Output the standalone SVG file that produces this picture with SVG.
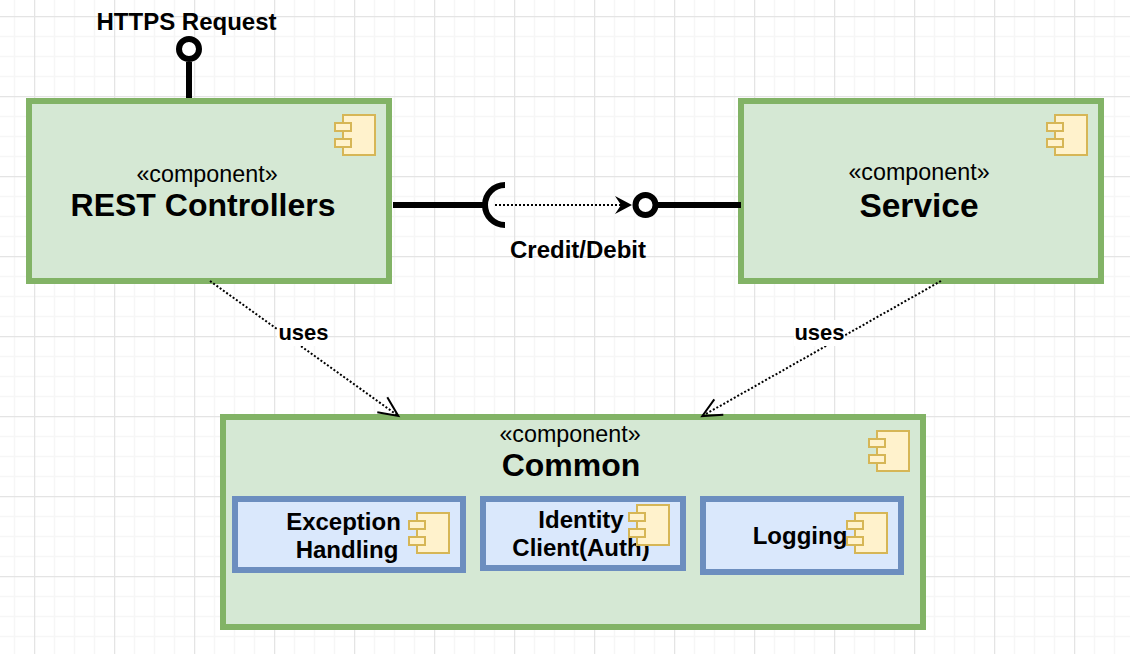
<svg xmlns="http://www.w3.org/2000/svg" width="1130" height="654" viewBox="0 0 1130 654">
<style>
text{font-family:"Liberation Sans",Arial,sans-serif;fill:#000;text-anchor:middle}
.b{font-weight:bold;font-size:24px}
.t{font-weight:bold;font-size:32px}
.s{font-size:23.300px}
.u{font-weight:bold;font-size:22px}
.g{fill:#d5e8d4;stroke:#82b366;stroke-width:6}
.p{fill:#dae8fc;stroke:#6c8ebf;stroke-width:6}
.i{fill:#fff2cc;stroke:#d6b656;stroke-width:2}
.w{fill:none;stroke:#000;stroke-width:6}
.c{fill:#fff;stroke:#000;stroke-width:6}
.d{fill:none;stroke:#000;stroke-width:2;stroke-dasharray:2 2}
.o{fill:none;stroke:#000;stroke-width:2}
</style>
<defs>
<pattern id="grid" patternUnits="userSpaceOnUse" width="80" height="80" x="34" y="16">
<path d="M20.500 0V80M40.500 0V80M60.500 0V80M0 20.500H80M0 40.500H80M0 60.500H80" fill="none" stroke="#f6f6f6" stroke-width="1.500"/>
<path d="M0.500 0V80M0 0.500H80" fill="none" stroke="#e4e4e4" stroke-width="1.500"/>
</pattern>
<g id="icon">
<rect class="i" x="8" y="0" width="32" height="40"/>
<rect class="i" x="0" y="8" width="16" height="8"/>
<rect class="i" x="0" y="24" width="16" height="8"/>
</g>
</defs>
<rect width="1130" height="654" fill="#fff"/>
<rect width="1130" height="654" fill="url(#grid)"/>
<g id="rest-controllers">
<rect class="g" x="29" y="101" width="360" height="180"/>
<use href="#icon" x="335" y="115"/>
<text class="s" x="207" y="182">«component»</text>
<text class="t" x="203" y="216">REST Controllers</text>
</g>
<g id="service">
<rect class="g" x="741" y="101" width="360" height="180"/>
<use href="#icon" x="1047" y="115"/>
<text class="s" x="919" y="180">«component»</text>
<text class="t" x="919" y="217" style="font-size:33.500px">Service</text>
</g>
<g id="common">
<rect class="g" x="223" y="417" width="700" height="210"/>
<use href="#icon" x="869" y="431"/>
<text class="s" x="570" y="442">«component»</text>
<text class="t" x="571" y="476">Common</text>
</g>
<g id="exception-handling">
<rect class="p" x="235" y="499" width="228" height="71"/>
<text class="b" x="343.500" y="530">Exception</text>
<text class="b" x="347" y="558">Handling</text>
<use href="#icon" x="409" y="513"/>
</g>
<g id="identity-client">
<rect class="p" x="483" y="499" width="200" height="69"/>
<text class="b" x="581" y="528">Identity</text>
<text class="b" x="581" y="556">Client(Auth)</text>
<use href="#icon" x="629" y="505"/>
</g>
<g id="logging">
<rect class="p" x="703" y="499" width="198" height="73"/>
<text class="b" x="800" y="544">Logging</text>
<use href="#icon" x="847" y="513"/>
</g>
<g id="connectors">
<path class="w" d="M189 62V98"/>
<circle class="c" cx="189" cy="49" r="10"/>
<path class="w" d="M393 205H485"/>
<path class="w" d="M505 185A20 20 0 0 0 505 225"/>
<path class="w" d="M658 205H741"/>
<circle class="c" cx="645.500" cy="205" r="10"/>
<path class="d" d="M495 205H624"/>
<path d="M632 205L615 196L621 205L615 214Z" fill="#000"/>
<path class="d" d="M210 281L397 415"/>
<path class="o" d="M387.300 397.300L398.300 416L377.300 412.300"/>
<path class="d" d="M941 281L704 415"/>
<path class="o" d="M714.300 399.300L702.300 416L723.300 414.700"/>
<rect x="277" y="320" width="51" height="26" fill="#fff"/>
<text class="u" x="303.500" y="339.500">uses</text>
<rect x="794" y="320" width="51" height="26" fill="#fff"/>
<text class="u" x="819.500" y="339.500">uses</text>
<text class="b" x="186.500" y="30">HTTPS Request</text>
<text class="b" x="578" y="257.500">Credit/Debit</text>
</g>
</svg>
